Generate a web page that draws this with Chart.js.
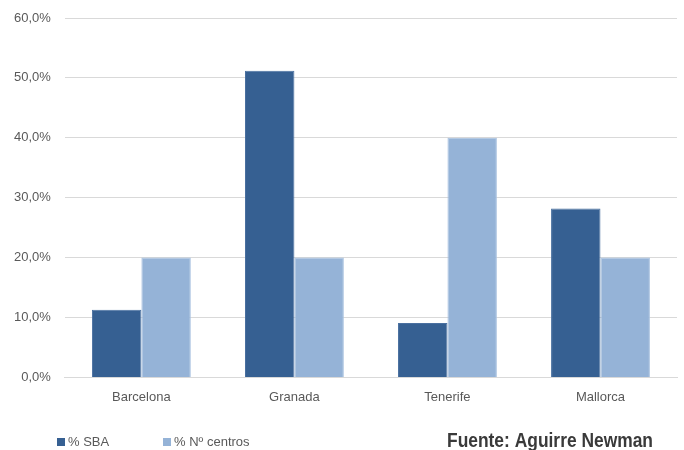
<!DOCTYPE html>
<html>
<head>
<meta charset="utf-8">
<script src="https://cdn.jsdelivr.net/npm/chart.js@4"></script>
<style>
  html, body { margin: 0; padding: 0; background: #ffffff; }
  #wrap { position: relative; width: 684px; height: 450px; }
  canvas { display: block; }
</style>
</head>
<body>
<div id="wrap"><canvas id="c" width="684" height="450"></canvas></div>
<script>
// Categories and series (percentages)
const cities = ['Barcelona', 'Granada', 'Tenerife', 'Mallorca'];
const sbaShare = [11.3, 51.2, 9.1, 28.2];
const centrosShare = [20.0, 20.0, 40.0, 20.0];
const seriesNames = ['% SBA', '% Nº centros'];
const sourceNote = 'Fuente: Aguirre Newman';

const darkBlue = '#366092';
const lightBlue = '#95b3d7';
const gridGray = '#d9d9d9';
const textGray = '#595959';
const fontFamily = '"Liberation Sans", Arial, sans-serif';

const fmtPct = v => v.toFixed(1).replace('.', ',') + '%';

// Legend and source line drawn along the bottom edge
const footerPlugin = {
  id: 'footer',
  afterDraw(chart) {
    const ctx = chart.ctx;
    ctx.save();
    ctx.textBaseline = 'middle';
    ctx.textAlign = 'left';
    ctx.font = '13px ' + fontFamily;
    const ys = 442;
    const starts = [57, 163];
    chart.data.datasets.forEach((ds, i) => {
      const x = starts[i];
      ctx.fillStyle = ds.backgroundColor;
      ctx.fillRect(x, ys - 4, 8, 8);
      ctx.fillStyle = textGray;
      ctx.fillText(ds.label, x + 11, ys);
    });
    // Condensed bold source line, squeezed to its column width
    ctx.font = 'bold 20px "Liberation Sans Narrow", "Arial Narrow", ' + fontFamily;
    ctx.fillStyle = '#3a3a3a';
    ctx.textBaseline = 'alphabetic';
    const w = ctx.measureText(sourceNote).width;
    const target = 206;
    const sx = Math.min(1, target / w);
    ctx.translate(447, 447);
    ctx.scale(sx, 1);
    ctx.fillText(sourceNote, 0, 0);
    ctx.restore();
  }
};

new Chart(document.getElementById('c'), {
  type: 'bar',
  data: {
    labels: cities,
    datasets: [
      { label: seriesNames[0], data: sbaShare, backgroundColor: darkBlue, borderColor: '#4a70a0', borderWidth: 1 },
      { label: seriesNames[1], data: centrosShare, backgroundColor: lightBlue, borderColor: '#a9c2e0', borderWidth: 1 }
    ]
  },
  options: {
    responsive: false,
    animation: false,
    devicePixelRatio: 1,
    layout: { padding: { left: 0, right: 7, top: 18, bottom: 33 } },
    datasets: { bar: { barPercentage: 1.0, categoryPercentage: 0.646 } },
    plugins: {
      legend: { display: false },
      tooltip: { enabled: false }
    },
    scales: {
      x: {
        grid: { display: false, drawTicks: false },
        border: { display: true, color: gridGray, width: 1 },
        ticks: { color: textGray, font: { family: fontFamily, size: 13 }, padding: 12 }
      },
      y: {
        min: 0,
        max: 60,
        grid: { color: gridGray, lineWidth: 1, drawTicks: false },
        border: { display: false },
        // keep the horizontal label gap from inflating the top margin
        afterFit(scale) { scale.paddingTop = 0; },
        ticks: {
          stepSize: 10,
          color: textGray,
          font: { family: fontFamily, size: 13 },
          padding: 14,
          callback: v => fmtPct(v)
        }
      }
    }
  },
  plugins: [footerPlugin]
});
</script>
</body>
</html>
